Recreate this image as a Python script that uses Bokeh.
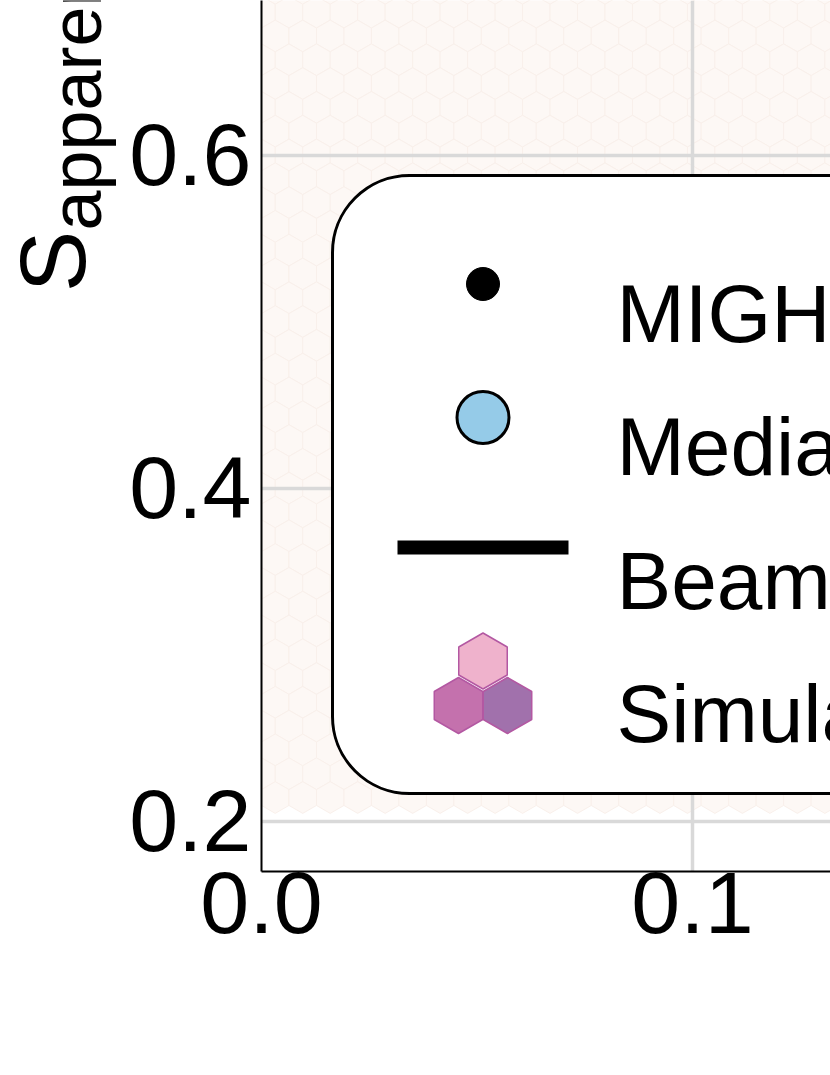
import numpy as np
from bokeh.plotting import figure
from bokeh.layouts import row
from bokeh.models import Range1d, FixedTicker, PrintfTickFormatter, BoxAnnotation, Label
from bokeh.core.properties import value
from bokeh.embed import file_html
from bokeh.resources import INLINE

# ---------------- data ----------------
x_ticks = [0.0, 0.1]
y_ticks = [0.2, 0.4, 0.6]
x_view = [0.0, 0.13202]
y_view = [0.16997, 0.69309]
legend_labels = ["MIGHTEE", "Median", "Beam", "Simulation"]
ylabel_main = "S"
ylabel_sub = "apparent"
# axial rows of the (faint, low-count) simulation hexbin that fall in view
hex_rows = list(range(-50, -14))
hex_cols_in_row = 24
hex_bin_size = 0.2144 / 22.5
sim_hex_colors = ["#eeaec9", "#c169a9", "#9c69a8"]
median_color = "#95cbe8"

# ---------------- layout helpers ----------------
W, H = 830, 1075
LW = 120                       # width of the strip that holds the y-axis title
FRAME_LEFT, FRAME_TOP, FRAME_BOTTOM = 261, 0, 871   # page pixels
PW = W - LW
PX_X = (W - FRAME_LEFT) / (x_view[1] - x_view[0])
PX_Y = (FRAME_BOTTOM - FRAME_TOP) / (y_view[1] - y_view[0])


def px2x(px):
    return x_view[0] + (px - FRAME_LEFT) / PX_X


def py2y(py):
    return y_view[1] - (py - FRAME_TOP) / PX_Y


FONT = "Liberation Sans"

# ---------------- y-axis title strip ----------------
lab = figure(width=LW, height=H, x_range=Range1d(0, LW), y_range=Range1d(0, H),
             output_backend="svg", toolbar_location=None,
             x_axis_location=None, y_axis_location=None,
             min_border_left=0, min_border_right=0, min_border_top=0, min_border_bottom=0)
lab.outline_line_color = None
lab.grid.visible = False
lab.background_fill_color = "white"
lab.border_fill_color = "white"
lab.text(x=[52], y=[H - 360], text=[ylabel_main], angle=np.pi / 2,
         text_font=value(FONT), text_font_size="92px", text_color="black",
         text_align="left", text_baseline="alphabetic")
lab.text(x=[75], y=[H - 284], text=[ylabel_sub], angle=np.pi / 2,
         text_font=value(FONT), text_font_size="72px", text_color="black",
         text_align="left", text_baseline="alphabetic")

# ---------------- main plot ----------------
p = figure(width=PW, height=H, x_range=Range1d(*x_view), y_range=Range1d(*y_view),
           output_backend="svg", toolbar_location=None,
           min_border_left=FRAME_LEFT - LW, min_border_right=0, min_border_top=0,
           min_border_bottom=H - FRAME_BOTTOM)
p.outline_line_color = None
p.background_fill_color = "white"
p.border_fill_color = "white"

# faint simulation hexbin
qs, rs = [], []
for r in hex_rows:
    q0 = int(np.floor(-r / 2)) - 1
    for q in range(q0, q0 + hex_cols_in_row):
        qs.append(q)
        rs.append(r)
p.hex_tile(q=qs, r=rs, size=hex_bin_size, aspect_scale=PX_X / PX_Y, orientation="pointytop",
           fill_color="#fdf8f5", line_color="#f9f0eb", line_width=1, level="image")

# axes & grid
p.xaxis.ticker = FixedTicker(ticks=x_ticks)
p.yaxis.ticker = FixedTicker(ticks=y_ticks)
p.xaxis.formatter = PrintfTickFormatter(format="%.1f")
p.yaxis.formatter = PrintfTickFormatter(format="%.1f")
for ax in (p.xaxis[0], p.yaxis[0]):
    ax.axis_line_color = "black"
    ax.axis_line_width = 2
    ax.major_tick_line_color = None
    ax.minor_tick_line_color = None
    ax.major_tick_in = 0
    ax.major_tick_out = 0
    ax.major_label_text_font = FONT
    ax.major_label_text_font_size = "88px"
    ax.major_label_text_color = "black"
p.yaxis.major_label_standoff = 10
p.xaxis.major_label_standoff = 1
p.grid.grid_line_color = "#d9d9d9"
p.grid.grid_line_width = 3.5

# legend
box_kw = dict(left=px2x(332), right=px2x(1600), top=py2y(175), bottom=py2y(793),
              fill_color="white", fill_alpha=1.0, line_color="black", line_alpha=1.0,
              line_width=3)
try:
    legend_box = BoxAnnotation(border_radius=77, **box_kw)
except Exception:
    legend_box = BoxAnnotation(**box_kw)
p.add_layout(legend_box)

gx = 482.5
p.scatter(x=[px2x(gx)], y=[py2y(283.5)], size=33, marker="circle",
          fill_color="black", line_color="black", level="overlay")
p.scatter(x=[px2x(gx)], y=[py2y(417)], size=52, marker="circle",
          fill_color=median_color, line_color="black", line_width=3, level="overlay")
p.line(x=[px2x(397), px2x(568)], y=[py2y(547), py2y(547)], line_width=14,
       line_color="black", line_cap="butt", level="overlay")
p.scatter(x=[px2x(gx), px2x(gx - 24.5), px2x(gx + 24.5)],
          y=[py2y(660.5), py2y(705), py2y(705)],
          marker="hex", size=56, angle=np.pi / 6, fill_color=sim_hex_colors, fill_alpha=0.95,
          line_color="#b358a2", line_width=1.5, level="overlay")

text_baselines = [313, 446, 580, 713]
for labtxt, by in zip(legend_labels, text_baselines):
    p.add_layout(Label(x=px2x(616), y=py2y(by), text=labtxt, text_font=FONT,
                       text_font_size="82px", text_color="black", text_align="left",
                       text_baseline="alphabetic", level="overlay"))

layout = row(lab, p, spacing=0)
open("out.html", "w").write(file_html(layout, INLINE))
